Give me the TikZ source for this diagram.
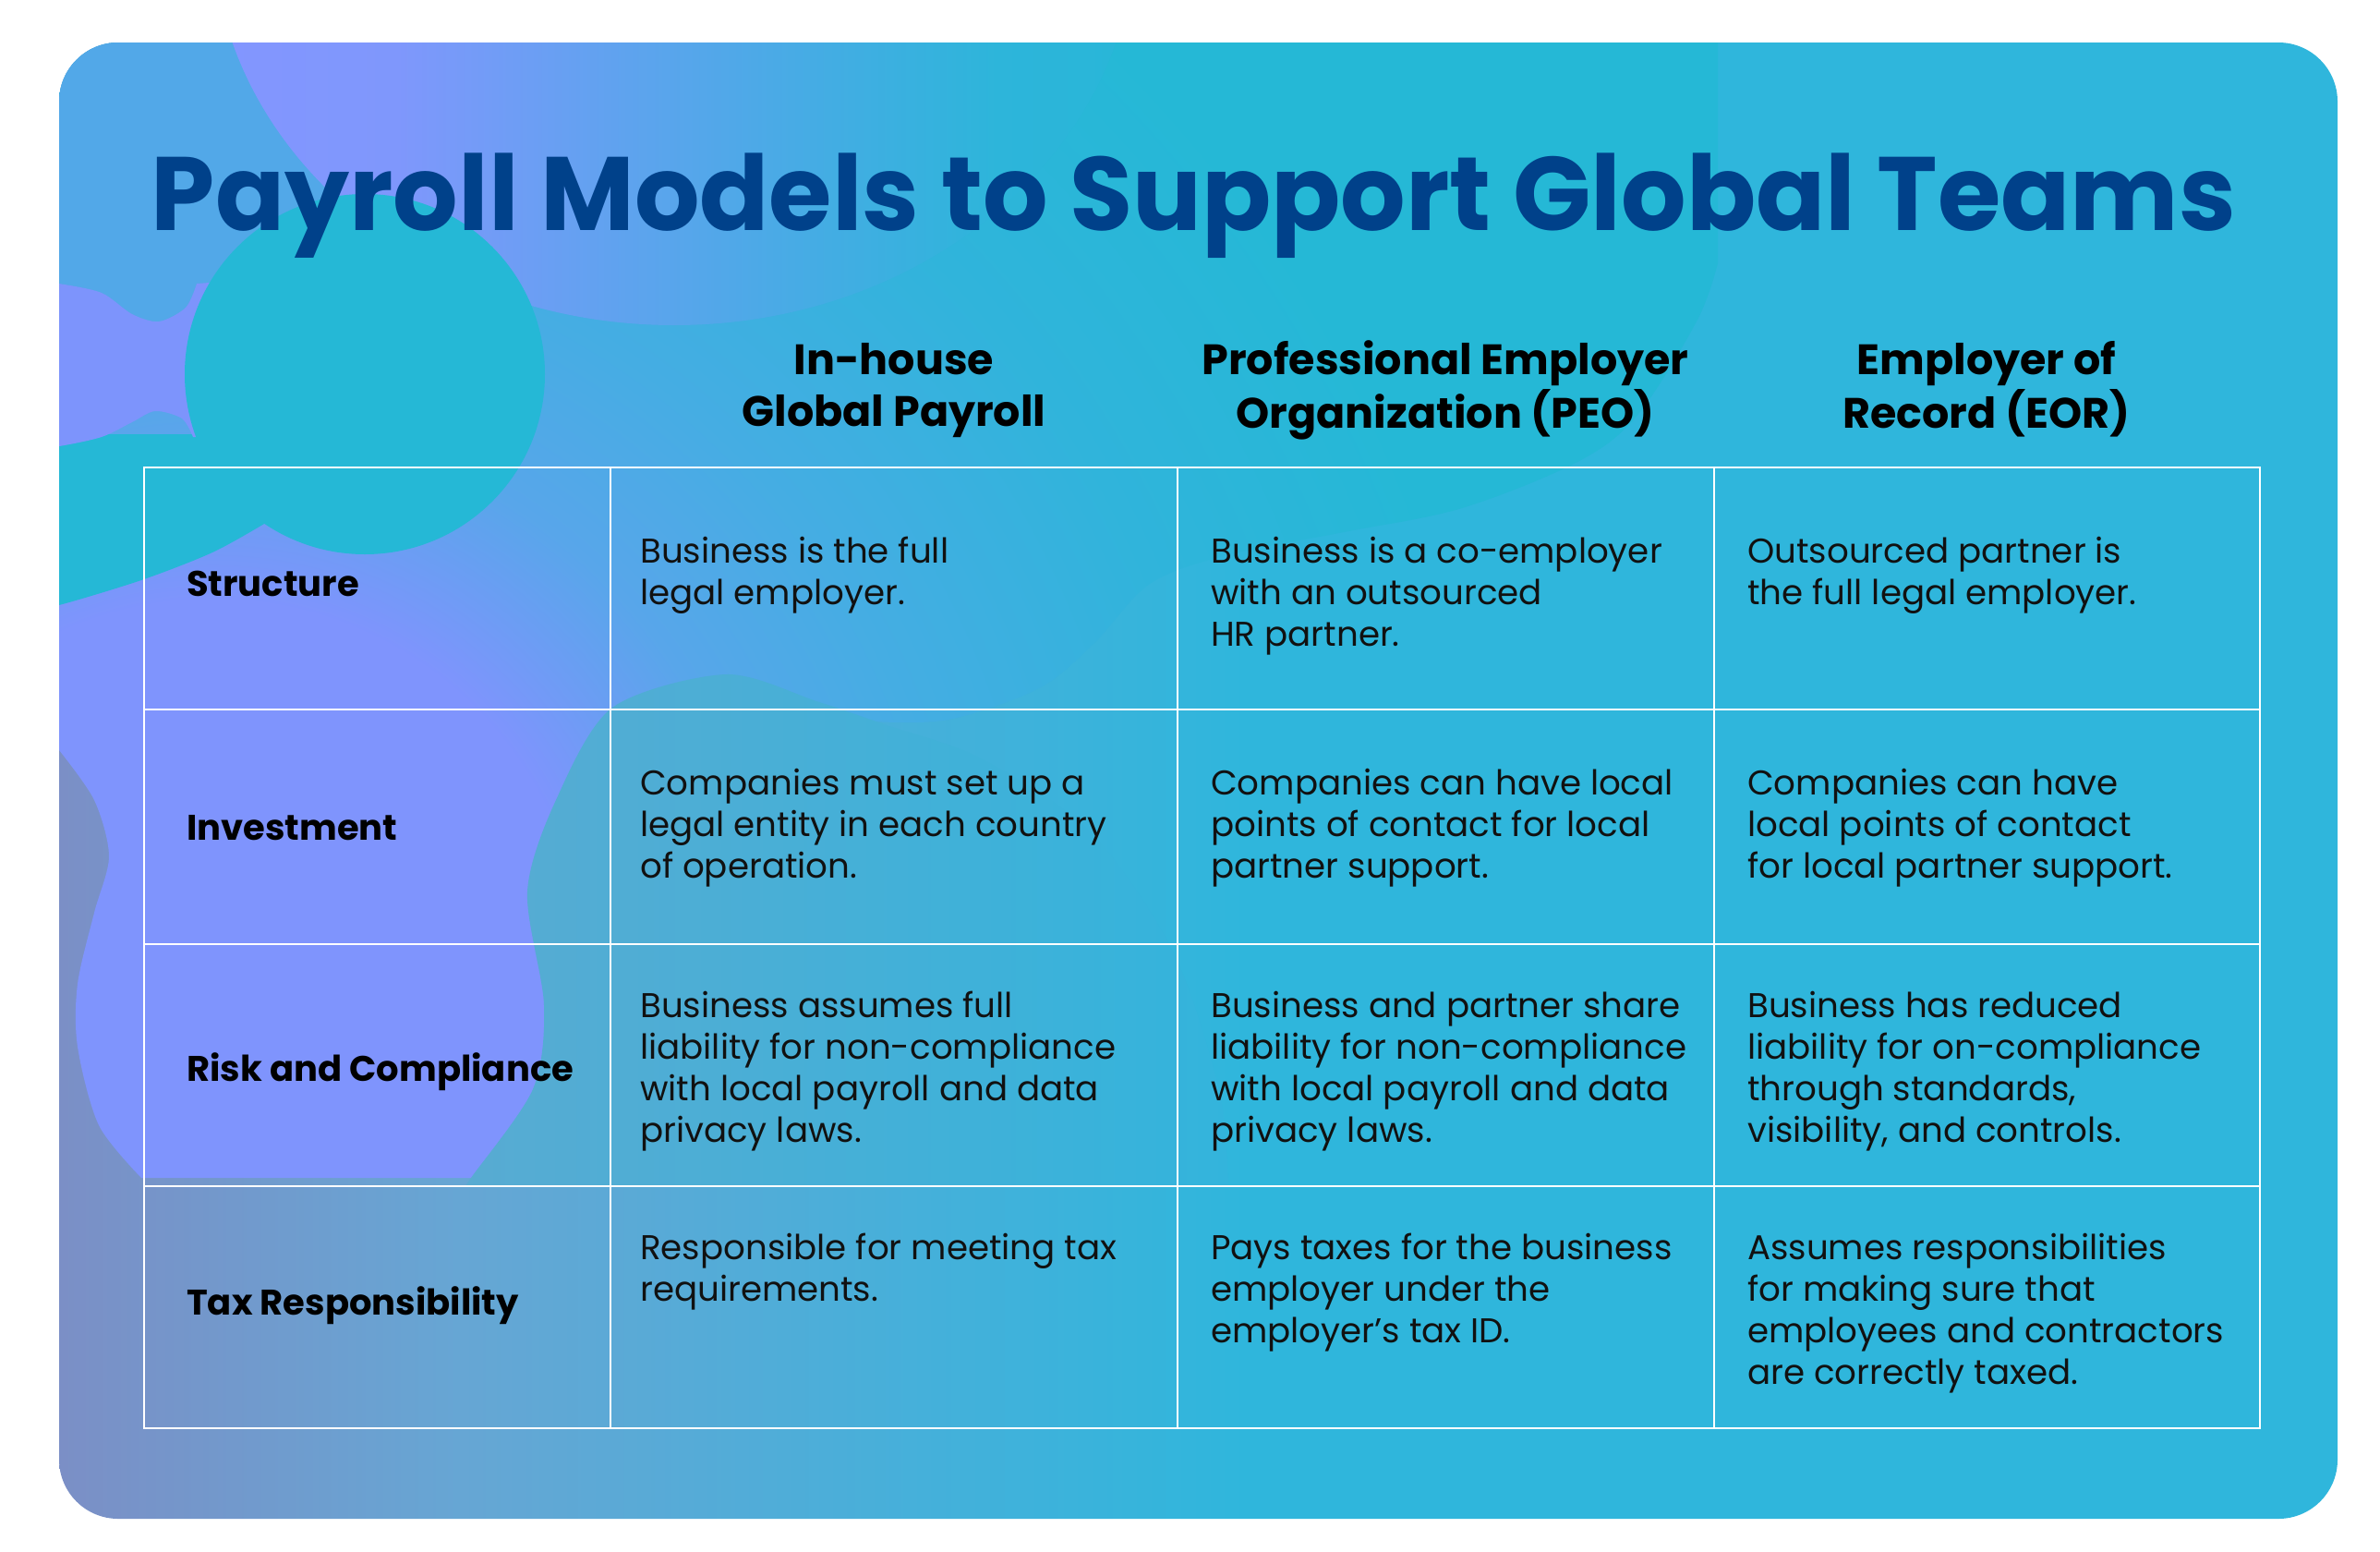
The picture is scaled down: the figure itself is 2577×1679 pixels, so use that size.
\documentclass[tikz,border=0pt]{standalone}
\usepackage{fontspec}
\setmainfont{Poppins}
\usepackage{graphicx}
\definecolor{bgl}{HTML}{7B8FC6}
\definecolor{bgmone}{HTML}{66A6D4}
\definecolor{bgmtwo}{HTML}{45B0DA}
\definecolor{bgr}{HTML}{2FB6DC}
\definecolor{lav}{HTML}{7F94FD}
\definecolor{bmid}{HTML}{58A6EA}
\definecolor{bmidb}{HTML}{45ADE3}
\definecolor{bcya}{HTML}{30B4DB}
\definecolor{bcyb}{HTML}{25B8D6}
\definecolor{aoa}{HTML}{8396FF}
\definecolor{aob}{HTML}{7F97FC}
\definecolor{aoc}{HTML}{5EA3EE}
\definecolor{aod}{HTML}{45ACE4}
\definecolor{aoe}{HTML}{2DB5DA}
\definecolor{aof}{HTML}{28B6D8}
\definecolor{dla}{HTML}{58ABD2}
\definecolor{dlb}{HTML}{33B4DC}
\definecolor{azero}{HTML}{52A8E8}
\definecolor{notchc}{HTML}{7D94FC}
\definecolor{cyc}{HTML}{25B8D6}
\definecolor{titleblue}{HTML}{00418A}
\definecolor{ink}{HTML}{111111}
% shadings: the path's bounding box maps to the central 25bp..75bp (radius 25bp)
\pgfdeclarehorizontalshading{bgshade}{100bp}{color(0bp)=(bgl); color(25bp)=(bgl); color(33.84bp)=(bgmone); color(43.97bp)=(bgmtwo); color(51.06bp)=(bgr); color(100bp)=(bgr)}
\pgfdeclareradialshading{bshade}{\pgfpoint{0bp}{0bp}}{color(0bp)=(lav); color(5bp)=(lav); color(7.5bp)=(bmid); color(10bp)=(bmidb); color(13.75bp)=(bcya); color(17.5bp)=(bcyb); color(50bp)=(bcyb)}
\pgfdeclarehorizontalshading{aoneshade}{100bp}{color(0bp)=(aoa); color(25bp)=(aoa); color(35bp)=(aob); color(47.5bp)=(aoc); color(57.5bp)=(aod); color(67.5bp)=(aoe); color(75bp)=(aof); color(100bp)=(aof)}
\pgfdeclarehorizontalshading{dshade}{100bp}{color(0bp)=(dla); color(25bp)=(dla); color(75bp)=(dlb); color(100bp)=(dlb)}
\newcommand\celllines[1]{\begin{tabular}[t]{@{}l@{}}#1\end{tabular}}
\newcommand\headlines[1]{\begin{tabular}[t]{@{}c@{}}#1\end{tabular}}
\tikzset{
  tline/.style={draw=white, line width=2.5pt},
  ttl/.style={inner sep=0pt, anchor=base, text=titleblue},
  colhead/.style={inner sep=0pt, anchor=base, text=black, font=\fontsize{46}{56}\selectfont\bfseries},
  rowhead/.style={inner sep=0pt, anchor=base west, text=black, font=\fontsize{38.5}{45.3}\selectfont\bfseries},
  cell/.style={inner sep=0pt, anchor=base west, text=ink, font=\fontsize{37.2}{45.3}\selectfont},
}
\begin{document}
\begin{tikzpicture}[x=1pt, y=-1pt]
\useasboundingbox (0,0) rectangle (2577,1679);
\begin{scope}
  \clip[rounded corners=64pt] (64,46) rectangle (2531,1644);
  % card background
  \shade[shading=bgshade] (64,46) rectangle (2531,1644);
  % large lavender-to-cyan shape
  \begin{scope}
    \clip (40,40) -- (1860,40) -- (1860,285) -- plot[smooth, tension=0.55] coordinates {(1860,285) (1838,346) (1774,448) (1710,499) (1583,550) (1455,576) (1328,601) (1245,632) (1185,696) (1125,745) (1027,779) (946,781)} -- plot[smooth] coordinates {(946,781) (850,820) (720,900) (650,1000) (630,1100) (600,1200) (520,1275)} -- (153,1275) -- plot[smooth] coordinates {(153,1275) (107,1218) (84,1133) (84,1065) (102,988) (118,927) (102,866) (64,812)} -- (40,812) -- cycle;
    \shade[shading=bshade] (230,1050) circle[radius=2000];
  \end{scope}
  % teal-grey blob (its lower seam lies under the table line)
  \shade[shading=dshade] plot[smooth] coordinates {(505,1284) (510,1275) (577,1179) (589,1088) (571,965) (602,866) (663,766) (786,730) (884,759) (960,785) (1060,820) (1180,900) (1270,1030) (1320,1180) (1330,1284)} -- cycle;
  % top-left blue
  \fill[azero] (40,40) -- (420,40) -- (420,320) -- (213,307) -- plot[smooth] coordinates {(213,307) (201,333) (172,348) (143,340) (110,317) (64,307)} -- (40,307) -- cycle;
  % top lavender ellipse
  \shade[shading=aoneshade] (730,-80) ellipse[x radius=500, y radius=432];
  % left cyan piece
  \fill[cyc] (40,470) -- (330,470) -- (330,540) -- plot[smooth] coordinates {(286,567) (230,598) (153,628) (64,655) (40,657)} -- cycle;
  % lavender notch
  \fill[notchc] plot[smooth] coordinates {(40,305) (64,307) (110,317) (143,340) (172,348) (201,333) (213,307)} -- (310,300) -- (310,480) -- plot[smooth] coordinates {(209,473) (197,453) (168,445) (143,457) (110,473) (64,483) (40,484)} -- cycle;
  % cyan circle
  \fill[cyc] (395,405) circle[radius=195];
\end{scope}

% title
\node[ttl] (title) at (1292.5,249) {\resizebox{2257pt}{\height}{\fontsize{113}{113}\selectfont\bfseries Payroll Models to Support Global Teams}};

% table grid
\draw[tline] (156,506) rectangle (2447,1546);
\draw[tline] (661,506) -- (661,1546);
\draw[tline] (1275,506) -- (1275,1546);
\draw[tline] (1856,506) -- (1856,1546);
\draw[tline] (156,768) -- (2447,768);
\draw[tline] (156,1022) -- (2447,1022);
\draw[tline] (156,1284) -- (2447,1284);

% column headers
\node[colhead] (h1) at (968,405) {\headlines{In-house\\Global Payroll}};
\node[colhead] (h2) at (1565,405) {\headlines{Professional Employer\\Organization (PEO)}};
\node[colhead] (h3) at (2151,405) {\headlines{Employer of\\Record (EOR)}};

% row headers
\node[rowhead] (r1) at (202,645) {Structure};
\node[rowhead] (r2) at (202,909) {Investment};
\node[rowhead] (r3) at (202,1170) {Risk and Compliance};
\node[rowhead] (r4) at (202,1423) {Tax Responsibility};

% cells
\node[cell] (c11) at (693,609) {\celllines{Business is the full\\legal employer.}};
\node[cell] (c12) at (1311,609) {\celllines{Business is a co-employer\\with an outsourced\\HR partner.}};
\node[cell] (c13) at (1892,609) {\celllines{Outsourced partner is\\the full legal employer.}};

\node[cell] (c21) at (693,860) {\celllines{Companies must set up a\\legal entity in each country\\of operation.}};
\node[cell] (c22) at (1311,860) {\celllines{Companies can have local\\points of contact for local\\partner support.}};
\node[cell] (c23) at (1892,860) {\celllines{Companies can have\\local points of contact\\for local partner support.}};

\node[cell] (c31) at (693,1101) {\celllines{Business assumes full\\liability for non-compliance\\with local payroll and data\\privacy laws.}};
\node[cell] (c32) at (1311,1101) {\celllines{Business and partner share\\liability for non-compliance\\with local payroll and data\\privacy laws.}};
\node[cell] (c33) at (1892,1101) {\celllines{Business has reduced\\liability for on-compliance\\through standards,\\visibility, and controls.}};

\node[cell] (c41) at (693,1363) {\celllines{Responsible for meeting tax\\requirements.}};
\node[cell] (c42) at (1311,1363) {\celllines{Pays taxes for the business\\employer under the\\employer’s tax ID.}};
\node[cell] (c43) at (1892,1363) {\celllines{Assumes responsibilities\\for making sure that\\employees and contractors\\are correctly taxed.}};
\end{tikzpicture}
\end{document}
